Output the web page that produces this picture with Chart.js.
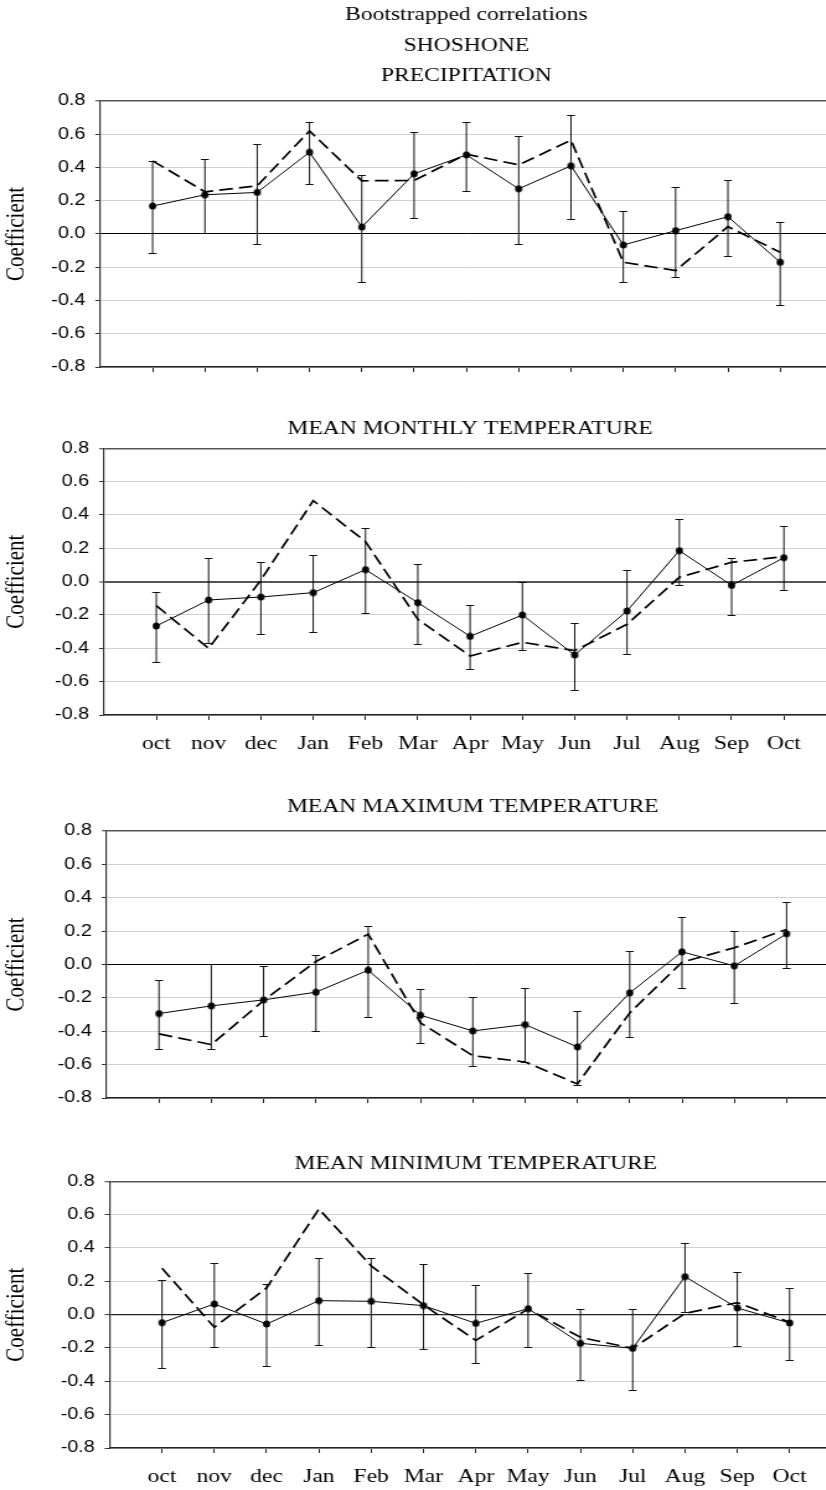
<!DOCTYPE html>
<html>
<head>
<meta charset="utf-8">
<script src="https://cdn.jsdelivr.net/npm/chart.js@4.4.1/dist/chart.umd.min.js"></script>
<style>
  html, body { margin: 0; padding: 0; background: #fff; width: 826px; height: 1490px; overflow: hidden; }
  .panel { position: absolute; left: 0; transform-origin: 0 0; }
  canvas { display: block; }
</style>
</head>
<body>
<div class="panel" id="w1"><canvas id="c1"></canvas></div>
<div class="panel" id="w2"><canvas id="c2"></canvas></div>
<div class="panel" id="w3"><canvas id="c3"></canvas></div>
<div class="panel" id="w4"><canvas id="c4"></canvas></div>
<script>
// Month axis (previous-year oct..dec, then current-year Jan..Oct)
const months = ['oct', 'nov', 'dec', 'Jan', 'Feb', 'Mar', 'Apr', 'May', 'Jun', 'Jul', 'Aug', 'Sep', 'Oct'];
const yTickValues = [-0.8, -0.6, -0.4, -0.2, 0.0, 0.2, 0.4, 0.6, 0.8];

// Precipitation: bootstrapped coefficient, confidence limits, dashed comparison series
const precipCorr = [0.168, 0.236, 0.25, 0.492, 0.042, 0.362, 0.476, 0.272, 0.41, -0.066, 0.02, 0.104, -0.17];
const precipLo   = [-0.116, 0.008, -0.058, 0.298, -0.29, 0.094, 0.26, -0.06, 0.092, -0.286, -0.258, -0.13, -0.428];
const precipHi   = [0.44, 0.45, 0.544, 0.672, 0.356, 0.616, 0.676, 0.592, 0.718, 0.14, 0.284, 0.326, 0.072];
const precipResp = [0.44, 0.254, 0.29, 0.62, 0.32, 0.322, 0.48, 0.416, 0.564, -0.17, -0.22, 0.044, -0.11];

// Mean monthly temperature
const tmeanCorr = [-0.266, -0.11, -0.092, -0.066, 0.072, -0.126, -0.328, -0.2, -0.44, -0.176, 0.186, -0.022, 0.144];
const tmeanLo   = [-0.482, -0.37, -0.312, -0.30, -0.19, -0.372, -0.526, -0.41, -0.65, -0.436, -0.018, -0.2, -0.052];
const tmeanHi   = [-0.06, 0.14, 0.116, 0.16, 0.32, 0.108, -0.14, 0.0, -0.246, 0.07, 0.378, 0.144, 0.332];
const tmeanResp = [-0.144, -0.40, 0.01, 0.486, 0.24, -0.226, -0.446, -0.364, -0.414, -0.256, 0.026, 0.116, 0.15];

// Mean maximum temperature
const tmaxCorr = [-0.294, -0.248, -0.212, -0.166, -0.034, -0.304, -0.398, -0.36, -0.494, -0.17, 0.076, -0.008, 0.184];
const tmaxLo   = [-0.504, -0.506, -0.43, -0.398, -0.312, -0.472, -0.608, -0.584, -0.724, -0.432, -0.14, -0.228, -0.018];
const tmaxHi   = [-0.092, 0.004, -0.008, 0.054, 0.228, -0.144, -0.196, -0.14, -0.276, 0.082, 0.282, 0.198, 0.376];
const tmaxResp = [-0.416, -0.48, -0.216, 0.018, 0.182, -0.35, -0.546, -0.584, -0.716, -0.29, 0.014, 0.10, 0.21];

// Mean minimum temperature
const tminCorr = [-0.048, 0.064, -0.056, 0.084, 0.08, 0.054, -0.052, 0.036, -0.172, -0.202, 0.228, 0.04, -0.05];
const tminLo   = [-0.318, -0.196, -0.308, -0.18, -0.194, -0.208, -0.288, -0.192, -0.392, -0.45, 0.014, -0.186, -0.274];
const tminHi   = [0.206, 0.31, 0.182, 0.338, 0.342, 0.304, 0.176, 0.25, 0.036, 0.036, 0.43, 0.256, 0.162];
const tminResp = [0.278, -0.076, 0.16, 0.634, 0.292, 0.058, -0.154, 0.034, -0.136, -0.202, 0.008, 0.072, -0.046];

// ---- drawing ----
const SX = 1.24;          // horizontal stretch of every panel
const CW = 690;           // canvas width (before stretch)
const BAND = 52.3;        // page pixels between months
const SERIF = "'Liberation Serif', 'Times New Roman', serif";
const SANS = "'Liberation Sans', Arial, sans-serif";

// round marker that stays round after the horizontal stretch
function makeMarker(r) {
  const c = document.createElement('canvas');
  c.width = 8; c.height = 8;
  const g = c.getContext('2d');
  g.fillStyle = '#000';
  g.beginPath();
  g.ellipse(4, 4, r / SX, r, 0, 0, Math.PI * 2);
  g.fill();
  return c;
}
const marker = makeMarker(3.6);

const errorBars = {
  id: 'errorBars',
  beforeDatasetsDraw(chart, args, opts) {
    const { ctx, scales: { x, y } } = chart;
    const lo = opts.lower, hi = opts.upper;
    if (!lo || !hi) return;
    ctx.save();
    ctx.strokeStyle = opts.color;
    ctx.lineWidth = opts.width;
    const cap = opts.cap;
    lo.forEach((l, i) => {
      const px = x.getPixelForValue(i);
      const pTop = Math.round(y.getPixelForValue(hi[i])) + 0.5;
      const pBot = Math.round(y.getPixelForValue(l)) + 0.5;
      ctx.beginPath();
      ctx.moveTo(px, pTop); ctx.lineTo(px, pBot);
      ctx.moveTo(px - cap, pTop); ctx.lineTo(px + cap, pTop);
      ctx.moveTo(px - cap, pBot); ctx.lineTo(px + cap, pBot);
      ctx.stroke();
    });
    ctx.restore();
  }
};

const panels = [
  { canvas: 'c1', wrap: 'w1', top: 0, height: 412, axisX: 100.3,
    title: ['Bootstrapped correlations', 'SHOSHONE', 'PRECIPITATION'], titleLH: 1.605, titlePad: { top: 0, bottom: 9.5 },
    labels: false, corr: precipCorr, lo: precipLo, hi: precipHi, resp: precipResp, zeroColor: '#000', zeroWidth: 1 },
  { canvas: 'c2', wrap: 'w2', top: 400, height: 360, axisX: 104,
    title: 'MEAN MONTHLY TEMPERATURE', titleLH: 1.2, titlePad: { top: 18.1, bottom: 7.4 },
    labels: true, corr: tmeanCorr, lo: tmeanLo, hi: tmeanHi, resp: tmeanResp, zeroColor: '#555', zeroWidth: 2 },
  { canvas: 'c3', wrap: 'w3', top: 780, height: 363, axisX: 106.7,
    title: 'MEAN MAXIMUM TEMPERATURE', titleLH: 1.2, titlePad: { top: 15.9, bottom: 12.3 },
    labels: false, corr: tmaxCorr, lo: tmaxLo, hi: tmaxHi, resp: tmaxResp, zeroColor: '#000', zeroWidth: 1 },
  { canvas: 'c4', wrap: 'w4', top: 1135, height: 358, axisX: 109.7,
    title: 'MEAN MINIMUM TEMPERATURE', titleLH: 1.2, titlePad: { top: 18.1, bottom: 5.4 },
    labels: true, corr: tminCorr, lo: tminLo, hi: tminHi, resp: tminResp, zeroColor: '#222', zeroWidth: 1.2 }
];

panels.forEach(p => {
  const wrap = document.getElementById(p.wrap);
  wrap.style.top = p.top + 'px';
  wrap.style.transform = 'scaleX(' + SX + ')';
  const cv = document.getElementById(p.canvas);
  cv.width = CW;
  cv.height = p.height;

  const yAxisW = p.axisX / SX;
  const plotRight = (p.axisX + 14 * BAND) / SX;

  new Chart(cv, {
    type: 'line',
    data: {
      datasets: [
        {
          data: p.corr.map((v, i) => ({ x: i, y: v })),
          borderColor: '#000', borderWidth: 1, tension: 0,
          pointStyle: marker, pointRadius: 3.5, pointHoverRadius: 3.5
        },
        {
          data: p.resp.map((v, i) => ({ x: i, y: v })),
          borderColor: '#000', borderWidth: 1.7, borderDash: [11, 5], tension: 0,
          pointRadius: 0, pointHoverRadius: 0
        }
      ]
    },
    options: {
      responsive: false,
      animation: false,
      devicePixelRatio: 1,
      events: [],
      layout: { padding: { left: 0, top: 0, bottom: 0, right: CW - plotRight } },
      plugins: {
        legend: { display: false },
        tooltip: { enabled: false },
        title: {
          display: true, text: p.title, fullSize: false, color: '#000',
          font: { family: SERIF, size: 19, weight: 'normal', lineHeight: p.titleLH },
          padding: p.titlePad
        },
        errorBars: { lower: p.lo, upper: p.hi, color: '#111', width: 1, cap: 4 / SX }
      },
      scales: {
        x: {
          type: 'linear', min: -1, max: 13,
          afterBuildTicks: s => { s.ticks = months.map((m, i) => ({ value: i })); },
          afterFit: s => { s.height = 45; },
          grid: { drawOnChartArea: false, drawTicks: true, tickLength: 5, tickColor: '#222', tickWidth: 1 },
          border: { display: true, color: '#222', width: 1.5 },
          ticks: {
            display: p.labels, autoSkip: false, maxRotation: 0, padding: 13, color: '#000',
            font: { family: SERIF, size: 19 },
            callback: v => months[v]
          }
        },
        y: {
          min: -0.8, max: 0.8,
          afterBuildTicks: s => { s.ticks = yTickValues.map(v => ({ value: v })); },
          afterFit: s => { s.width = yAxisW; },
          grid: {
            color: c => {
              const v = c.tick ? c.tick.value : 1;
              if (Math.abs(v) < 1e-9) return p.zeroColor;
              if (v > 0.79) return '#555';
              return '#d0d0d0';
            },
            lineWidth: c => {
              const v = c.tick ? c.tick.value : 1;
              if (Math.abs(v) < 1e-9) return p.zeroWidth;
              if (v > 0.79) return 1.5;
              return 1;
            },
            drawTicks: true, tickLength: 4, tickColor: '#333', tickWidth: 1
          },
          border: { display: true, color: '#333', width: 1.2 },
          ticks: {
            padding: 8, color: '#000',
            font: { family: SANS, size: 16 },
            callback: v => (Math.abs(v) < 1e-9 ? 0 : v).toFixed(1)
          },
          title: {
            display: true, text: 'Coefficient', color: '#000',
            font: { family: SERIF, size: 21 },
            padding: { top: 1, bottom: 0 }
          }
        }
      }
    },
    plugins: [errorBars]
  });
});
</script>
</body>
</html>
